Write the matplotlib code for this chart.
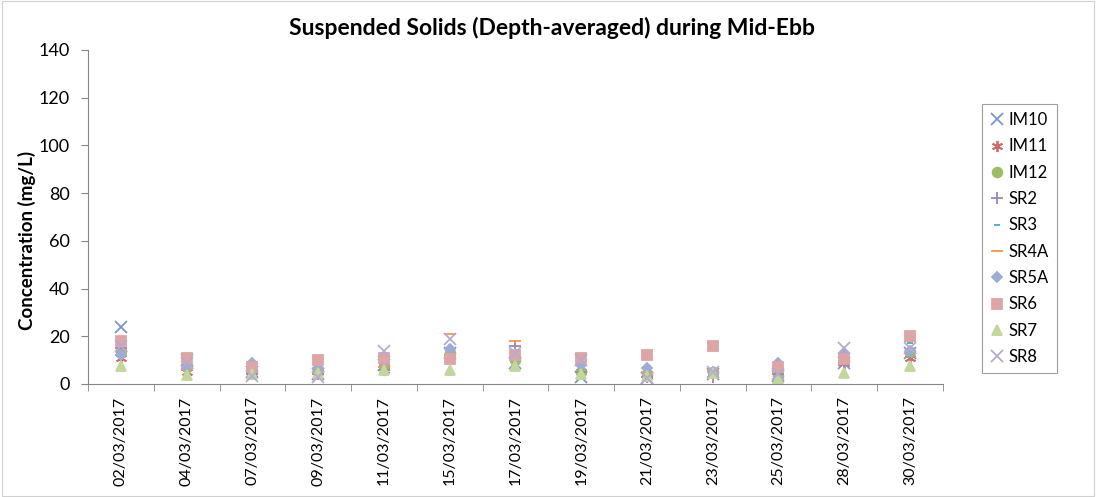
import matplotlib
matplotlib.use("Agg")
import matplotlib.pyplot as plt
from matplotlib.patches import Rectangle
import numpy as np

plt.rcParams['font.family'] = ['Lato', 'DejaVu Sans']

dates = ['02/03/2017', '04/03/2017', '07/03/2017', '09/03/2017', '11/03/2017',
         '15/03/2017', '17/03/2017', '19/03/2017', '21/03/2017', '23/03/2017',
         '25/03/2017', '28/03/2017', '30/03/2017']

IM10 = [24, 10, 5, 4, 8, 13, 9, 3, 2.5, 4, 3.5, 9, 13]
IM11 = [11, 5, 4, 5, 6, 12, 11, 7, 3.5, 5, 4, 9, 10.7]
IM12 = [14, 7, 5, 5.5, 7.5, 13, 10, 5, 4, 5, 3.5, 10, 13.5]
SR2 = [15, 6, 4, 4, 6, 12, 16, 5, 3, 3, 4, 8, 13]
SR3 = [13, 7, 5, 5, 7, 12.5, 11, 9, 5, 5.5, 5, 11, 17.3]
SR4A = [12, 6, 5, 5, 7, 21, 18, 8, 5, 6, 5, 9, 18]
SR5A = [12, 7, 9, 6.5, 8.7, 14.5, 11, 8, 6.5, 5, 9, 13, 14]
SR6 = [18, 11, 7, 10, 11, 10.3, 12, 11, 12, 16, 7, 10.3, 20]
SR7 = [7.7, 3.8, 4, 4.5, 6, 6, 7.5, 4, 3.5, 4.5, 2, 4.5, 7.5]
SR8 = [16, 9, 3.5, 3, 14, 19, 13, 10, 2.5, 5, 4, 15, 15]

# name, values, marker, colour, size
series = [
    ('IM10', IM10, 'x', '#7b96cf', 8),
    ('IM11', IM11, (6, 2, 0), '#d06b6b', 8),
    ('IM12', IM12, 'o', '#9dbd62', 7),
    ('SR2', SR2, '+', '#9b87b8', 8),
    ('SR3', SR3, '_', '#4bacc6', 5),
    ('SR4A', SR4A, '_', '#f79646', 8),
    ('SR5A', SR5A, 'D', '#9badd6', 5),
    ('SR6', SR6, 's', '#dda5a5', 7),
    ('SR7', SR7, '^', '#c3d69b', 7),
    ('SR8', SR8, 'x', '#b7aad0', 8),
]

fig = plt.figure(figsize=(10.96, 4.97), dpi=100)
ax = fig.add_axes([0.0803, 0.2274, 0.780, 0.672])

x = np.arange(len(dates))
for name, vals, mk, col, ms in series:
    ax.plot(x, vals, linestyle='none', marker=mk, color=col, markersize=ms,
            markeredgewidth=1.3, label=name)

ax.set_xlim(-0.5, len(dates) - 0.5)
ax.set_ylim(0, 140)
ax.set_yticks(range(0, 141, 20))
ax.set_xticks(x)
ax.set_xticklabels(dates, rotation=90, fontsize=11.5)
ax.set_xticks(np.arange(-0.5, len(dates), 1), minor=True)
ax.tick_params(axis='x', which='major', length=0, pad=9)
ax.tick_params(axis='x', which='minor', length=5, color='#878787', direction='out')
ax.tick_params(axis='y', length=5, color='#878787', labelsize=13, pad=8)

for s in ['top', 'right']:
    ax.spines[s].set_visible(False)
for s in ['left', 'bottom']:
    ax.spines[s].set_color('#878787')

ax.set_ylabel('Concentration (mg/L)', fontsize=13.5, fontweight='bold')
ax.yaxis.set_label_coords(-0.061, 0.43)
fig.text(0.5035, 0.943, 'Suspended Solids (Depth-averaged) during Mid-Ebb',
         ha='center', va='center', fontsize=16.5, fontweight='bold')

leg = fig.legend(loc='center left', bbox_to_anchor=(0.896, 0.52), fontsize=12,
                 frameon=True, fancybox=False, edgecolor='#878787',
                 labelspacing=0.62, handlelength=0.8, handletextpad=0.3,
                 borderpad=0.5, borderaxespad=0)
leg.get_frame().set_linewidth(0.8)

fig.patches.append(Rectangle((0.002, 0.002), 0.996, 0.996, transform=fig.transFigure,
                             fill=False, edgecolor='#d0d0d0', linewidth=0.8))

fig.savefig('out.png', dpi=100)
